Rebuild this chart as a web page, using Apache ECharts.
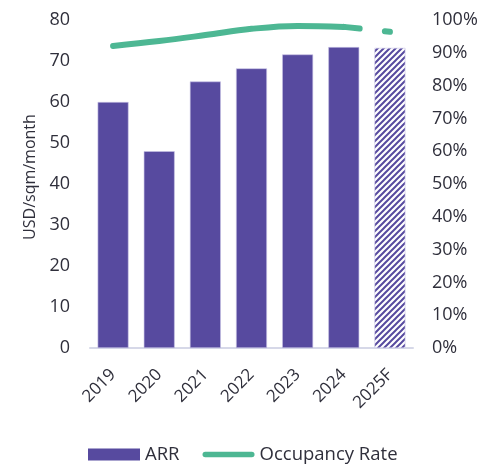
<!DOCTYPE html>
<html><head><meta charset="utf-8">
<script src="https://cdn.jsdelivr.net/npm/echarts@6/dist/echarts.min.js"></script>
<style>html,body{margin:0;padding:0;background:#fff}#c{width:496px;height:465px}</style>
</head><body><div id="c"></div>
<script>
const categories = ['2019','2020','2021','2022','2023','2024','2025F'];
const arr = [60, 48, 65, 68.2, 71.6, 73.4, 73.2];
const occupancy = [92.1, 93.6, 95.4, 97.3, 98.2, 97.9, 96.4];
const leftTicks = [0, 80, 10];
const rightTicks = [0, 100, 10];

const PURPLE = '#574a9f';
const GREEN = '#4db793';
const TEXT = '#2f2f3b';

function hatch() {
  const c = document.createElement('canvas');
  c.width = 6; c.height = 6;
  const g = c.getContext('2d');
  g.fillStyle = '#fff'; g.fillRect(0,0,6,6);
  g.strokeStyle = PURPLE; g.lineWidth = 2;
  g.beginPath();
  g.moveTo(-3,9); g.lineTo(9,-3);
  g.moveTo(-3,3); g.lineTo(3,-3);
  g.moveTo(3,9); g.lineTo(9,3);
  g.stroke();
  return c;
}

const barData = arr.map((v, i) => i === categories.length - 1
  ? { value: v, itemStyle: { color: { image: hatch(), repeat: 'repeat' } } }
  : v);
const lineSolid = occupancy.map((v, i) => i < categories.length - 1 ? v : null);
const lineDash = occupancy.map((v, i) => i >= categories.length - 2 ? v : null);

const chart = echarts.init(document.getElementById('c'));
chart.setOption({
  animation: false,
  textStyle: { fontFamily: 'Open Sans' },
  grid: { left: 90, right: 83, top: 20, bottom: 117 },
  legend: {
    top: 440, left: 83, itemGap: 23,
    textStyle: { fontSize: 18.5, color: TEXT, fontFamily: 'Open Sans' },
    data: [
      { name: 'ARR', icon: 'rect', itemStyle: { color: PURPLE, borderWidth: 0 } },
      { name: 'Occupancy Rate', icon: 'path://M3,0 L54,0 A3,3 0 0 1 54,6 L3,6 A3,3 0 0 1 3,0 Z' }
    ],
    itemWidth: 52, itemHeight: 12
  },
  xAxis: {
    type: 'category', data: categories,
    axisLine: { lineStyle: { color: '#d6d8e8', width: 2 } },
    axisTick: { show: false },
    axisLabel: { rotate: 45, fontSize: 17, color: TEXT, margin: 24 }
  },
  yAxis: [
    { type: 'value', min: leftTicks[0], max: leftTicks[1], interval: leftTicks[2],
      name: 'USD/sqm/month', nameLocation: 'middle', nameGap: 52, nameRotate: 90,
      nameTextStyle: { fontSize: 16, color: TEXT, padding: [0, 0, 0, 14] },
      splitLine: { show: false }, axisLine: { show: false }, axisTick: { show: false },
      axisLabel: { fontSize: 18, color: TEXT, margin: 20 } },
    { type: 'value', min: rightTicks[0], max: rightTicks[1], interval: rightTicks[2],
      splitLine: { show: false }, axisLine: { show: false }, axisTick: { show: false },
      axisLabel: { fontSize: 18, color: TEXT, margin: 19, formatter: '{value}%' } }
  ],
  series: [
    { name: 'ARR', type: 'bar', data: barData, barCategoryGap: '33%',
      itemStyle: { color: PURPLE, borderColor: '#c8c2e6', borderWidth: 0.6 } },
    { name: 'Occupancy Rate', type: 'line', yAxisIndex: 1, data: lineSolid, smooth: 0.4,
      symbol: 'none', connectNulls: false,
      itemStyle: { color: GREEN },
      lineStyle: { color: GREEN, width: 6, cap: 'round' } },
    { name: 'OccDash', type: 'line', yAxisIndex: 1, data: lineDash, smooth: 0.4,
      symbol: 'none',
      lineStyle: { color: GREEN, width: 6, cap: 'round', type: [16, 25] } }
  ]
});
</script></body></html>
